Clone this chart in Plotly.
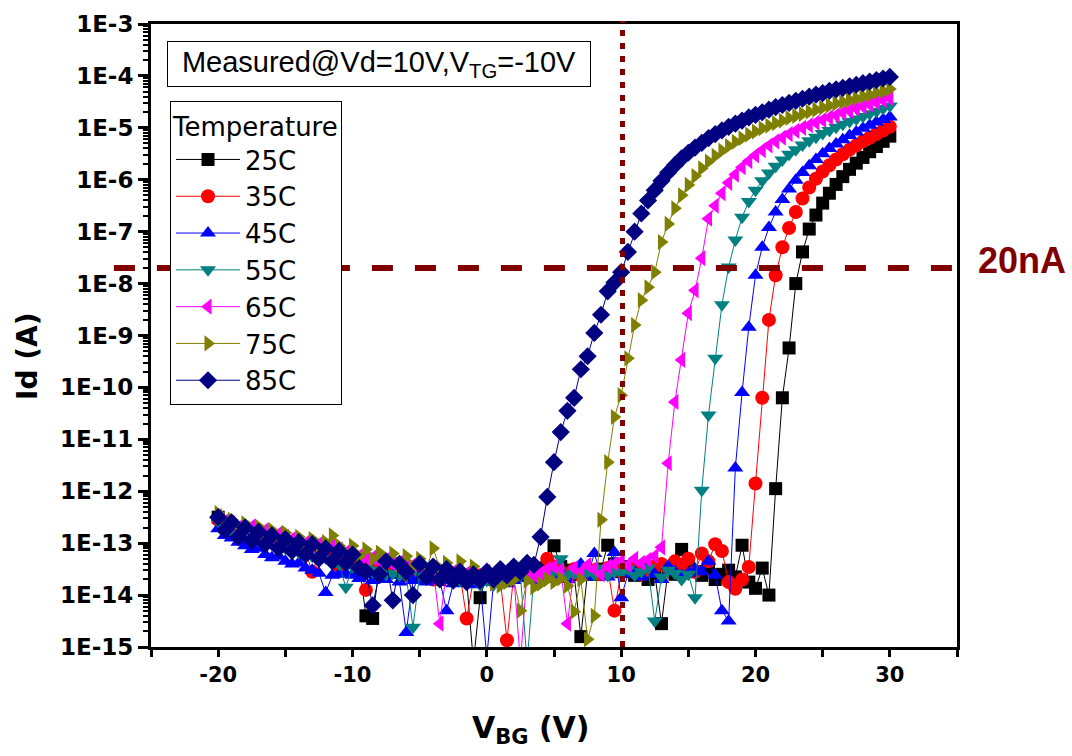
import plotly.graph_objects as go

# Back-gate sweep (V)
vbg = [
    -20.0, -19.5, -19.0, -18.5, -18.0, -17.5, -17.0, -16.5, -16.0, -15.5,
    -15.0, -14.5, -14.0, -13.5, -13.0, -12.5, -12.0, -11.5, -11.0, -10.5,
    -10.0, -9.5, -9.0, -8.5, -8.0, -7.5, -7.0, -6.5, -6.0, -5.5,
    -5.0, -4.5, -4.0, -3.5, -3.0, -2.5, -2.0, -1.5, -1.0, -0.5,
    0.0, 0.5, 1.0, 1.5, 2.0, 2.5, 3.0, 3.5, 4.0, 4.5,
    5.0, 5.5, 6.0, 6.5, 7.0, 7.5, 8.0, 8.5, 9.0, 9.5,
    10.0, 10.5, 11.0, 11.5, 12.0, 12.5, 13.0, 13.5, 14.0, 14.5,
    15.0, 15.5, 16.0, 16.5, 17.0, 17.5, 18.0, 18.5, 19.0, 19.5,
    20.0, 20.5, 21.0, 21.5, 22.0, 22.5, 23.0, 23.5, 24.0, 24.5,
    25.0, 25.5, 26.0, 26.5, 27.0, 27.5, 28.0, 28.5, 29.0, 29.5,
    30.0,
]

# log10 of drain current Id (A) at each temperature
log_id_25c = [
    -12.50, -12.62, -12.70, -12.74, -12.80, -12.86, -12.84, -12.92, -12.97, -12.95,
    -13.02, -13.06, -13.10, -13.05, -13.15, -13.22, -13.18, -13.25, -13.30, -13.28,
    -13.35, -13.40, -14.40, -14.45, -13.45, -13.50, -13.55, -13.50, -13.62, -13.58,
    -13.55, -13.65, -13.60, -13.70, -13.58, -13.66, -13.62, -13.72, -15.30, -14.05,
    -13.62, -13.70, -13.58, -13.66, -13.62, -13.55, -13.60, -13.52, -13.48, -13.40,
    -13.05, -13.45, -13.52, -13.60, -14.80, -13.55, -13.60, -13.50, -13.04, -13.40,
    -13.55, -13.45, -13.62, -13.50, -13.70, -13.58, -14.55, -13.50, -13.60, -13.12,
    -13.40, -13.55, -13.62, -13.48, -13.70, -13.60, -13.52, -13.65, -13.04, -13.75,
    -13.87, -13.48, -14.00, -11.95, -10.20, -9.24, -8.00, -7.39, -6.95, -6.68,
    -6.45, -6.26, -6.09, -5.94, -5.80, -5.68, -5.57, -5.46, -5.36, -5.26,
    -5.16,
]
log_id_35c = [
    -12.55, -12.65, -12.72, -12.78, -12.82, -12.88, -12.90, -12.95, -12.98, -13.02,
    -13.05, -13.10, -13.12, -13.15, -13.55, -13.22, -13.25, -13.30, -13.45, -13.32,
    -13.35, -13.40, -13.90, -13.55, -13.45, -13.50, -13.52, -13.48, -13.60, -13.55,
    -13.55, -13.60, -13.70, -13.58, -13.62, -13.65, -13.60, -14.45, -13.70, -13.62,
    -13.60, -13.65, -13.70, -14.87, -13.62, -13.55, -13.65, -13.58, -13.60, -13.30,
    -13.45, -13.55, -13.60, -13.50, -13.62, -13.58, -13.52, -13.60, -13.48, -14.30,
    -13.55, -13.50, -13.45, -13.60, -13.52, -13.45, -13.40, -13.48, -13.35, -13.42,
    -13.30, -13.55, -13.20, -13.35, -13.02, -13.15, -13.75, -13.88, -13.70, -13.46,
    -11.85, -10.20, -8.70, -7.84, -7.30, -6.93, -6.62, -6.36, -6.15, -5.98,
    -5.84, -5.72, -5.61, -5.51, -5.42, -5.34, -5.26, -5.19, -5.12, -5.05,
    -4.98,
]
log_id_45c = [
    -12.72, -12.85, -12.90, -12.98, -13.05, -13.12, -13.10, -13.22, -13.28, -13.25,
    -13.35, -13.40, -13.38, -13.48, -13.52, -13.58, -13.95, -13.62, -13.60, -13.58,
    -13.62, -13.68, -13.60, -13.72, -13.65, -13.70, -13.62, -13.75, -14.72, -13.72,
    -13.70, -13.75, -13.68, -13.72, -14.30, -13.78, -13.70, -13.75, -13.80, -13.72,
    -15.20, -13.75, -13.70, -13.78, -13.72, -13.68, -13.65, -13.72, -13.60, -13.70,
    -13.62, -13.55, -13.70, -13.58, -13.40, -13.65, -13.20, -13.60, -13.65, -13.18,
    -14.05, -13.60, -13.55, -13.65, -13.48, -13.60, -13.70, -13.45, -13.55, -13.62,
    -13.58, -13.50, -13.55, -13.35, -13.62, -14.30, -14.50, -11.55, -10.10, -8.84,
    -7.84, -7.30, -6.92, -6.62, -6.38, -6.18, -6.01, -5.86, -5.73, -5.61,
    -5.50, -5.40, -5.31, -5.23, -5.15, -5.08, -5.01, -4.95, -4.89, -4.84,
    -4.79,
]
log_id_55c = [
    -12.58, -12.68, -12.76, -12.80, -12.86, -12.90, -12.95, -12.98, -13.02, -13.06,
    -13.10, -13.12, -13.18, -13.22, -13.25, -13.30, -13.28, -13.35, -13.40, -13.85,
    -13.45, -13.50, -13.48, -13.55, -13.52, -13.60, -13.58, -13.62, -13.62, -14.62,
    -13.60, -13.65, -13.58, -13.70, -13.62, -13.68, -13.72, -13.75, -13.68, -13.80,
    -13.72, -13.80, -13.75, -13.70, -13.68, -13.62, -15.30, -13.65, -13.60, -13.58,
    -13.55, -13.30, -13.62, -13.58, -13.65, -13.55, -13.60, -13.48, -13.62, -13.55,
    -13.58, -13.50, -13.62, -13.55, -13.48, -14.50, -13.65, -13.52, -13.58, -13.70,
    -13.60, -14.05, -11.98, -10.53, -9.44, -8.41, -7.68, -7.16, -6.72, -6.42,
    -6.20, -6.02, -5.87, -5.74, -5.62, -5.51, -5.42, -5.33, -5.25, -5.18,
    -5.11, -5.05, -4.99, -4.93, -4.88, -4.83, -4.78, -4.73, -4.68, -4.63,
    -4.58,
]
log_id_65c = [
    -12.48, -12.58, -12.62, -12.70, -12.72, -12.68, -12.80, -12.75, -12.85, -12.82,
    -12.88, -12.92, -12.98, -13.00, -13.05, -13.02, -13.10, -13.05, -13.12, -13.18,
    -13.20, -13.25, -13.30, -13.28, -13.35, -13.32, -13.40, -13.38, -13.45, -13.42,
    -13.45, -13.50, -13.48, -14.55, -13.52, -13.55, -13.50, -13.58, -13.55, -13.60,
    -13.55, -13.62, -13.58, -13.65, -13.60, -15.30, -13.55, -13.62, -13.58, -13.50,
    -13.45, -13.52, -14.55, -13.48, -13.55, -13.42, -13.50, -13.60, -13.45, -13.40,
    -13.35, -13.42, -13.30, -13.38, -13.32, -13.25, -13.08, -11.46, -10.28, -9.47,
    -8.57, -8.13, -7.51, -6.75, -6.50, -6.26, -6.06, -5.90, -5.76, -5.64,
    -5.53, -5.43, -5.34, -5.26, -5.19, -5.12, -5.06, -5.00, -4.95, -4.90,
    -4.85, -4.80, -4.76, -4.71, -4.67, -4.63, -4.59, -4.55, -4.51, -4.47,
    -4.43,
]
log_id_75c = [
    -12.42, -12.60, -12.55, -12.72, -12.62, -12.80, -12.68, -12.88, -12.75, -12.92,
    -12.80, -12.98, -12.88, -13.05, -12.92, -13.10, -12.98, -12.85, -13.05, -13.18,
    -13.05, -13.25, -13.12, -13.30, -13.18, -13.35, -13.20, -13.42, -13.25, -13.45,
    -13.30, -13.50, -13.10, -13.48, -13.38, -13.55, -13.35, -13.60, -13.45, -13.65,
    -13.60, -13.78, -13.82, -13.75, -13.70, -14.30, -13.72, -13.85, -13.78, -13.70,
    -13.75, -13.68, -13.82, -14.32, -13.70, -14.85, -14.40, -12.55, -11.44, -10.57,
    -10.15, -9.44, -8.80, -8.32, -8.07, -7.78, -7.20, -6.85, -6.55, -6.30,
    -6.10, -5.93, -5.78, -5.65, -5.54, -5.44, -5.35, -5.27, -5.20, -5.13,
    -5.07, -5.01, -4.96, -4.91, -4.86, -4.81, -4.77, -4.73, -4.69, -4.65,
    -4.61, -4.57, -4.53, -4.50, -4.46, -4.43, -4.39, -4.36, -4.32, -4.29,
    -4.25,
]
log_id_85c = [
    -12.50, -12.75, -12.60, -12.88, -12.70, -12.95, -12.78, -13.02, -12.85, -13.10,
    -12.92, -13.15, -12.98, -13.22, -13.02, -13.30, -13.10, -13.35, -13.15, -13.38,
    -13.22, -13.48, -13.55, -14.20, -13.60, -13.35, -14.10, -13.40, -13.55, -14.00,
    -13.40, -13.65, -13.45, -13.70, -13.50, -13.72, -13.55, -13.75, -13.60, -13.72,
    -13.55, -13.70, -13.50, -13.62, -13.45, -13.55, -13.38, -13.42, -12.88, -12.11,
    -11.44, -10.86, -10.45, -10.20, -9.65, -9.40, -8.95, -8.60, -8.15, -7.98,
    -7.78, -7.39, -7.00, -6.65, -6.40, -6.20, -6.02, -5.86, -5.72, -5.59,
    -5.48, -5.38, -5.29, -5.20, -5.12, -5.05, -4.98, -4.92, -4.86, -4.80,
    -4.75, -4.70, -4.65, -4.60, -4.56, -4.52, -4.48, -4.44, -4.40, -4.36,
    -4.33, -4.29, -4.26, -4.23, -4.20, -4.17, -4.14, -4.11, -4.08, -4.05,
    -4.02,
]

temperatures = ["25C", "35C", "45C", "55C", "65C", "75C", "85C"]
colors = ["#000000", "#FF0000", "#0000FF", "#008080", "#FF00FF", "#808000", "#000080"]
symbols = ["square", "circle", "triangle-up", "triangle-down",
           "triangle-left", "triangle-right", "diamond"]
marker_sizes = [13, 14, 14, 14, 14, 14, 14]
curves = [log_id_25c, log_id_35c, log_id_45c, log_id_55c,
          log_id_65c, log_id_75c, log_id_85c]

# Reference levels
i_target = 2e-8          # 20nA criterion
v_bg_mark = 10.1         # gate bias marker

y_exponents = list(range(-3, -16, -1))
y_tickvals = [10.0 ** e for e in y_exponents]
y_ticktext = ["1E%d" % e for e in y_exponents]
y_minor = [k * 10.0 ** e for e in range(-15, -3) for k in range(2, 10)]
x_tickvals = [-20, -10, 0, 10, 20, 30]
x_ticktext = ["-20", "-10", "0", "10", "20", "30"]

AX_FONT = "DejaVu Sans"
TXT_FONT = "Liberation Sans, Arial"
LEG_FONT = "DejaVu Sans"
DARK_RED = "#800000"

fig = go.Figure()
for name, logs, col, sym, ms in zip(temperatures, curves, colors, symbols, marker_sizes):
    fig.add_trace(go.Scatter(
        x=vbg, y=[10.0 ** v for v in logs], name=name,
        mode="lines+markers",
        line=dict(color=col, width=1),
        marker=dict(symbol=sym, size=ms, color=col, line=dict(width=0)),
    ))

fig.update_layout(
    width=1072, height=756,
    margin=dict(l=151, r=115, t=24, b=109),
    paper_bgcolor="white", plot_bgcolor="white",
    showlegend=True,
    legend=dict(
        x=0.0236, y=0.876, xanchor="left", yanchor="top",
        bgcolor="white", bordercolor="black", borderwidth=1,
        font=dict(family=LEG_FONT, size=26, color="black"),
        title=dict(text="Temperature", font=dict(family=LEG_FONT, size=26, color="black")),
        itemwidth=64, tracegroupgap=0,
    ),
)

fig.update_xaxes(
    range=[-25, 35], tickmode="array", tickvals=x_tickvals, ticktext=x_ticktext,
    ticks="outside", ticklen=7, tickwidth=2.5, tickcolor="black",
    minor=dict(ticks="outside", ticklen=7, tickwidth=2.5, tickcolor="black",
               dtick=5, tick0=-25),
    showline=True, linecolor="black", linewidth=3, mirror=True,
    showgrid=False, zeroline=False,
    tickfont=dict(family=AX_FONT, size=21, color="black", weight="bold"),
)
fig.update_yaxes(
    type="log", range=[-15, -3], tickmode="array",
    tickvals=y_tickvals, ticktext=y_ticktext,
    ticks="outside", ticklen=10, tickwidth=2.5, tickcolor="black",
    minor=dict(ticks="outside", ticklen=5, tickwidth=1.5, tickcolor="black",
               tickmode="array", tickvals=y_minor),
    showline=True, linecolor="black", linewidth=3, mirror=True,
    showgrid=False, zeroline=False,
    tickfont=dict(family=AX_FONT, size=23, color="black", weight="bold"),
)

# Gate-bias marker and current criterion
fig.add_shape(type="line", xref="x", yref="paper", x0=v_bg_mark, x1=v_bg_mark,
              y0=0, y1=1.005, line=dict(color=DARK_RED, width=5, dash="6px,7px"))
fig.add_shape(type="line", xref="paper", yref="y", x0=-0.046, x1=1.0,
              y0=i_target, y1=i_target, line=dict(color=DARK_RED, width=6, dash="21px,22px"))

fig.add_annotation(xref="paper", yref="paper", x=1.023, y=0.6196,
                   xanchor="left", yanchor="middle", showarrow=False,
                   text="<b>20nA</b>", font=dict(family=TXT_FONT, size=36, color=DARK_RED))

fig.add_annotation(xref="paper", yref="paper", x=0.0199, y=0.9727,
                   xanchor="left", yanchor="top", showarrow=False,
                   text="Measured@Vd=10V,V<sub>TG</sub>=-10V",
                   font=dict(family=TXT_FONT, size=29, color="black"),
                   bgcolor="white", bordercolor="black", borderwidth=1,
                   borderpad=4, width=414, align="center")

# Axis titles
fig.add_annotation(xref="paper", yref="paper", x=-0.1526, y=0.4655,
                   xanchor="center", yanchor="middle", showarrow=False, textangle=-90,
                   text="Id (A)", font=dict(family=AX_FONT, size=28, color="black", weight="bold"))
fig.add_annotation(xref="paper", yref="paper", x=0.4715, y=-0.133,
                   xanchor="center", yanchor="middle", showarrow=False,
                   text="V<sub>BG</sub> (V)", font=dict(family=AX_FONT, size=30, color="black", weight="bold"))

fig.write_html("out.html")
